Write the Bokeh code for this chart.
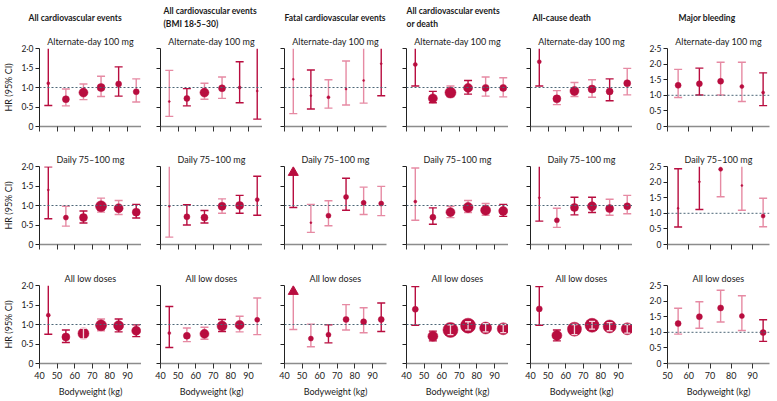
from bokeh.plotting import figure
from bokeh.layouts import row, column
from bokeh.models import Title, Span, FixedTicker
from bokeh.embed import file_html
from bokeh.resources import INLINE

# ---------------- data ----------------
weights = [45, 55, 65, 75, 85, 95]          # bodyweight category midpoints (kg)
weights_bleed = [55, 65, 75, 85, 95]
x_tick_labels = ["40", "50", "60", "70", "80", "90"]
x_tick_labels_bleed = ["50", "60", "70", "80", "90"]
y_tick_labels = ["0", "0·5", "1·0", "1·5", "2·0", "2·5"]

col_title_1 = ["All cardiovascular events", "All cardiovascular events",
               "Fatal cardiovascular events", "All cardiovascular events",
               "All-cause death", "Major bleeding"]
col_title_2 = ["", "(BMI 18·5–30)", "", "or death", "", ""]
row_titles = ["Alternate-day 100 mg", "Daily 75–100 mg", "All low doses"]
y_label = "HR (95% CI)"
x_label = "Bodyweight (kg)"

# None = beyond the top of the axis
# ---- Alternate-day 100 mg
alt_cv_est = [1.11, 0.70, 0.87, 1.00, 1.09, 0.89]
alt_cv_lo = [0.54, 0.53, 0.69, 0.77, 0.78, 0.63]
alt_cv_hi = [None, 0.96, 1.09, 1.29, 1.53, 1.22]
alt_cv_w = [3, 7, 9, 8, 6, 6]
alt_cv_tone = [1, 0, 0, 0, 1, 0]

alt_bmi_est = [0.64, 0.72, 0.87, 0.98, 1.00, 0.91]
alt_bmi_lo = [0.26, 0.53, 0.70, 0.72, 0.61, 0.19]
alt_bmi_hi = [1.44, 0.97, 1.11, 1.27, 1.66, None]
alt_bmi_w = [2, 6, 9, 7, 3, 2]
alt_bmi_tone = [0, 1, 0, 0, 1, 1]

alt_fatal_est = [1.21, 0.79, 0.75, 0.96, 1.18, 1.61]
alt_fatal_lo = [0.33, 0.45, 0.47, 0.55, 0.60, 0.79]
alt_fatal_hi = [None, 1.45, 1.20, 1.68, None, None]
alt_fatal_w = [2, 2, 3, 2, 2, 2]
alt_fatal_tone = [0, 1, 0, 0, 0, 1]

alt_cvd_est = [1.59, 0.72, 0.87, 0.99, 0.99, 0.99]
alt_cvd_lo = [1.04, 0.61, 0.76, 0.83, 0.78, 0.76]
alt_cvd_hi = [None, 0.90, 1.04, 1.18, 1.27, 1.25]
alt_cvd_w = [4, 9, 11, 9, 7, 7]
alt_cvd_tone = [1, 1, 0, 1, 0, 0]

alt_death_est = [1.66, 0.71, 0.91, 0.96, 0.90, 1.11]
alt_death_lo = [1.04, 0.56, 0.77, 0.75, 0.66, 0.81]
alt_death_hi = [None, 0.92, 1.13, 1.20, 1.22, 1.49]
alt_death_w = [4, 8, 9, 8, 7, 7]
alt_death_tone = [1, 0, 0, 0, 1, 0]

alt_bleed_est = [1.32, 1.37, 1.45, 1.28, 1.09]
alt_bleed_lo = [0.93, 1.01, 1.01, 0.80, 0.67]
alt_bleed_hi = [1.83, 1.87, 2.06, 2.06, 1.72]
alt_bleed_w = [6, 6, 6, 4, 3]
alt_bleed_tone = [0, 1, 0, 0, 1]

# ---- Daily 75-100 mg
day_cv_est = [1.40, 0.69, 0.69, 0.98, 0.93, 0.83]
day_cv_lo = [0.66, 0.47, 0.55, 0.83, 0.77, 0.68]
day_cv_hi = [1.99, 0.98, 0.86, 1.19, 1.13, 1.03]
day_cv_w = [2, 5, 8, 11, 9, 8]
day_cv_tone = [1, 0, 1, 0, 0, 1]

day_bmi_est = [0.98, 0.71, 0.69, 0.98, 1.00, 1.15]
day_bmi_lo = [0.19, 0.50, 0.55, 0.80, 0.80, 0.75]
day_bmi_hi = [None, 1.02, 0.87, 1.17, 1.26, 1.75]
day_bmi_w = [2, 6, 7, 8, 8, 4]
day_bmi_tone = [0, 1, 1, 0, 1, 1]

day_fatal_est = [None, 0.56, 0.74, 1.22, 1.07, 1.05]
day_fatal_lo = [0.95, 0.31, 0.48, 0.88, 0.77, 0.74]
day_fatal_hi = [None, 1.03, 1.12, 1.70, 1.47, 1.49]
day_fatal_w = [10, 2, 5, 5, 5, 5]
day_fatal_tone = [1, 0, 0, 1, 0, 0]

day_cvd_est = [1.10, 0.70, 0.83, 0.95, 0.88, 0.86]
day_cvd_lo = [0.62, 0.52, 0.69, 0.82, 0.75, 0.72]
day_cvd_hi = [1.96, 0.94, 0.98, 1.13, 1.05, 1.03]
day_cvd_w = [3, 6, 9, 10, 10, 9]
day_cvd_tone = [0, 1, 0, 0, 0, 1]

day_death_est = [1.20, 0.62, 0.95, 0.98, 0.92, 0.98]
day_death_lo = [0.60, 0.44, 0.76, 0.82, 0.75, 0.79]
day_death_hi = [None, 0.93, 1.21, 1.21, 1.16, 1.26]
day_death_w = [2, 5, 8, 9, 8, 7]
day_death_tone = [1, 0, 1, 1, 0, 0]

day_bleed_est = [1.16, 2.01, 2.41, 1.89, 0.91]
day_bleed_lo = [0.56, 1.12, 1.53, 1.10, 0.57]
day_bleed_hi = [2.43, None, None, None, 1.48]
day_bleed_w = [2, 2, 4, 2, 4]
day_bleed_tone = [1, 1, 0, 0, 0]

# ---- All low doses
low_cv_est = [1.24, 0.68, 0.77, 0.98, 0.97, 0.84]
low_cv_lo = [0.75, 0.54, 0.63, 0.84, 0.81, 0.69]
low_cv_hi = [None, 0.86, 0.90, 1.14, 1.14, 0.99]
low_cv_w = [4, 8, 11, 11, 10, 9]
low_cv_tone = [1, 1, 0, 0, 1, 1]

low_bmi_est = [0.78, 0.71, 0.76, 0.96, 0.99, 1.12]
low_bmi_lo = [0.41, 0.56, 0.62, 0.82, 0.81, 0.74]
low_bmi_hi = [1.46, 0.91, 0.93, 1.13, 1.21, 1.68]
low_bmi_w = [3, 7, 9, 10, 9, 5]
low_bmi_tone = [1, 0, 0, 1, 0, 0]

low_fatal_est = [None, 0.64, 0.74, 1.13, 1.07, 1.13]
low_fatal_lo = [0.87, 0.43, 0.53, 0.86, 0.79, 0.82]
low_fatal_hi = [None, 1.01, 0.99, 1.51, 1.43, 1.55]
low_fatal_w = [10, 5, 5, 6, 6, 6]
low_fatal_tone = [0, 0, 1, 0, 0, 1]

low_cvd_est = [1.39, 0.70, 0.86, 0.97, 0.91, 0.89]
low_cvd_lo = [0.98, 0.58, 0.74, 0.86, 0.81, 0.79]
low_cvd_hi = [1.97, 0.83, 0.99, 1.07, 1.02, 1.00]
low_cvd_w = [6, 10, 15, 15, 12, 12]
low_cvd_tone = [1, 1, 0, 0, 0, 0]

low_death_est = [1.40, 0.72, 0.88, 0.98, 0.95, 0.89]
low_death_lo = [0.98, 0.58, 0.74, 0.88, 0.84, 0.78]
low_death_hi = [1.97, 0.86, 1.00, 1.08, 1.05, 1.00]
low_death_w = [6, 10, 14, 14, 13, 12]
low_death_tone = [1, 1, 0, 0, 0, 0]

low_bleed_est = [1.28, 1.50, 1.78, 1.52, 0.99]
low_bleed_lo = [0.94, 1.13, 1.33, 1.06, 0.71]
low_bleed_hi = [1.77, 1.98, 2.35, 2.17, 1.40]
low_bleed_w = [6, 6, 6, 5, 6]
low_bleed_tone = [0, 0, 0, 0, 1]

panels = [
    [(alt_cv_est, alt_cv_lo, alt_cv_hi, alt_cv_w, alt_cv_tone),
     (alt_bmi_est, alt_bmi_lo, alt_bmi_hi, alt_bmi_w, alt_bmi_tone),
     (alt_fatal_est, alt_fatal_lo, alt_fatal_hi, alt_fatal_w, alt_fatal_tone),
     (alt_cvd_est, alt_cvd_lo, alt_cvd_hi, alt_cvd_w, alt_cvd_tone),
     (alt_death_est, alt_death_lo, alt_death_hi, alt_death_w, alt_death_tone),
     (alt_bleed_est, alt_bleed_lo, alt_bleed_hi, alt_bleed_w, alt_bleed_tone)],
    [(day_cv_est, day_cv_lo, day_cv_hi, day_cv_w, day_cv_tone),
     (day_bmi_est, day_bmi_lo, day_bmi_hi, day_bmi_w, day_bmi_tone),
     (day_fatal_est, day_fatal_lo, day_fatal_hi, day_fatal_w, day_fatal_tone),
     (day_cvd_est, day_cvd_lo, day_cvd_hi, day_cvd_w, day_cvd_tone),
     (day_death_est, day_death_lo, day_death_hi, day_death_w, day_death_tone),
     (day_bleed_est, day_bleed_lo, day_bleed_hi, day_bleed_w, day_bleed_tone)],
    [(low_cv_est, low_cv_lo, low_cv_hi, low_cv_w, low_cv_tone),
     (low_bmi_est, low_bmi_lo, low_bmi_hi, low_bmi_w, low_bmi_tone),
     (low_fatal_est, low_fatal_lo, low_fatal_hi, low_fatal_w, low_fatal_tone),
     (low_cvd_est, low_cvd_lo, low_cvd_hi, low_cvd_w, low_cvd_tone),
     (low_death_est, low_death_lo, low_death_hi, low_death_w, low_death_tone),
     (low_bleed_est, low_bleed_lo, low_bleed_hi, low_bleed_w, low_bleed_tone)],
]

# ---------------- style / layout ----------------
FONT = "Lato"
DARK = "#B80D3F"
LIGHT = "#E68AA3"
TXT = "#1a1a1a"
FW, FH = 102, 78
BL = [34, 19, 22, 14, 22, 35]
BR = [0, 0, 6, 0, 0, 3]
BT = [42, 20, 20]
BB = [20, 21, 32]
TITLE_OFF = [-11, 3, 0, 0, 2, 11]


def make_panel(r, c, est, lo, hi, w, tone):
    bleed = (c == 5)
    ymax = 2.5 if bleed else 2.0
    xs = weights_bleed if bleed else weights
    xmin = 50 if bleed else 40
    p = figure(frame_width=FW, frame_height=FH, x_range=(xmin, 98), y_range=(0, ymax),
               output_backend="svg", toolbar_location=None,
               min_border_left=BL[c], min_border_right=BR[c],
               min_border_top=BT[r], min_border_bottom=BB[r])
    p.outline_line_color = None
    p.xgrid.visible = False
    p.ygrid.visible = False
    p.background_fill_color = "white"
    p.border_fill_color = "white"

    # titles (first added = closest to the frame)
    p.add_layout(Title(text=row_titles[r], align="center", text_font=FONT,
                       text_font_size="9px", text_font_style="normal",
                       text_color=TXT, standoff=4), "above")
    if r == 0:
        if col_title_2[c]:
            p.add_layout(Title(text=col_title_1[c] + "\n" + col_title_2[c], align="left",
                               offset=TITLE_OFF[c], text_font=FONT, text_font_size="8.5px",
                               text_font_style="bold", text_color=TXT, standoff=6,
                               text_line_height=1.25), "above")
        else:
            p.add_layout(Title(text=col_title_1[c], align="left", offset=TITLE_OFF[c],
                               text_font=FONT, text_font_size="8.5px", text_font_style="bold",
                               text_color=TXT, standoff=17), "above")

    # axes
    nt = 6 if bleed else 5
    yt = [i * 0.5 for i in range(nt)]
    p.yaxis.ticker = FixedTicker(ticks=yt)
    p.yaxis.major_label_overrides = {t: y_tick_labels[i] for i, t in enumerate(yt)}
    p.yaxis.axis_line_color = "#222222"
    p.yaxis.axis_line_width = 1
    p.yaxis.major_tick_line_color = "#222222"
    p.yaxis.major_tick_in = 0
    p.yaxis.major_tick_out = 4
    p.yaxis.minor_tick_line_color = None
    p.yaxis.major_label_standoff = 2
    p.yaxis.major_label_text_font = FONT
    p.yaxis.major_label_text_font_size = "8.5px"
    p.yaxis.major_label_text_color = TXT
    if not (c == 0 or bleed):
        p.yaxis.major_label_text_color = None
    if c == 0:
        p.yaxis.axis_label = y_label
        p.yaxis.axis_label_text_font = FONT
        p.yaxis.axis_label_text_font_size = "9px"
        p.yaxis.axis_label_text_font_style = "normal"
        p.yaxis.axis_label_text_color = TXT
        p.yaxis.axis_label_standoff = 4

    xt = [x - 5 for x in xs]
    xl = x_tick_labels_bleed if bleed else x_tick_labels
    p.xaxis.ticker = FixedTicker(ticks=xt)
    p.xaxis.major_label_overrides = {t: xl[i] for i, t in enumerate(xt)}
    p.xaxis.axis_line_color = "#8c8c8c"
    p.xaxis.axis_line_width = 1.6
    p.xaxis.major_tick_line_color = "#333333"
    p.xaxis.major_tick_in = 0
    p.xaxis.major_tick_out = 5
    p.xaxis.minor_tick_line_color = None
    p.xaxis.major_label_standoff = 3
    p.xaxis.major_label_text_font = FONT
    p.xaxis.major_label_text_font_size = "9px"
    p.xaxis.major_label_text_color = TXT
    if r < 2:
        p.xaxis.major_label_text_color = None
    else:
        p.xaxis.axis_label = x_label
        p.xaxis.axis_label_text_font = FONT
        p.xaxis.axis_label_text_font_size = "9px"
        p.xaxis.axis_label_text_font_style = "normal"
        p.xaxis.axis_label_text_color = TXT
        p.xaxis.axis_label_standoff = 4

    p.add_layout(Span(location=1, dimension="width", line_color="#4d6677",
                      line_dash="2 2", line_width=1))

    px_per_unit = FH / ymax
    tri_y = ymax - 6 / px_per_unit

    bx, by0, by1, bc = [], [], [], []
    caps_x, caps_y, caps_c = [], [], []
    mx, my, ms = [], [], []
    tx, ty, tsz = [], [], []
    wx, wy0, wy1, wcx, wcy = [], [], [], [], []
    for i, x in enumerate(xs):
        col = DARK if tone[i] else LIGHT
        top = hi[i] if hi[i] is not None else ymax
        if est[i] is None:
            top = tri_y
            tx.append(x); ty.append(tri_y); tsz.append(w[i])
        else:
            mx.append(x); my.append(est[i]); ms.append(w[i])
        rad = (w[i] / 2) / px_per_unit
        inside = (est[i] is not None and hi[i] is not None and
                  hi[i] <= est[i] + rad and lo[i] >= est[i] - rad)
        if inside:
            wx.append(x); wy0.append(lo[i]); wy1.append(hi[i])
            wcx += [x, x]; wcy += [lo[i], hi[i]]
            continue
        bx.append(x); by0.append(lo[i]); by1.append(top); bc.append(col)
        caps_x.append(x); caps_y.append(lo[i]); caps_c.append(col)
        if hi[i] is not None:
            caps_x.append(x); caps_y.append(hi[i]); caps_c.append(col)

    p.segment(x0=bx, y0=by0, x1=bx, y1=by1, line_color=bc, line_width=1.4)
    p.scatter(x=caps_x, y=caps_y, marker="dash", size=8, line_color=caps_c, line_width=1.4)
    if mx:
        p.scatter(x=mx, y=my, size=ms, marker="circle", fill_color=DARK, line_color=DARK,
                  line_width=0.5)
    if tx:
        p.scatter(x=tx, y=ty, size=tsz, marker="triangle", fill_color=DARK, line_color=DARK)
    if wx:
        p.segment(x0=wx, y0=wy0, x1=wx, y1=wy1, line_color="#f3d3dc", line_width=1.3)
        p.scatter(x=wcx, y=wcy, marker="dash", size=6, line_color="#f3d3dc", line_width=1.3)
    return p


rows = []
for r in range(3):
    figs = [make_panel(r, c, *panels[r][c]) for c in range(6)]
    rows.append(row(*figs, spacing=0))
layout = column(*rows, spacing=0)

open("out.html", "w").write(file_html(layout, INLINE))
